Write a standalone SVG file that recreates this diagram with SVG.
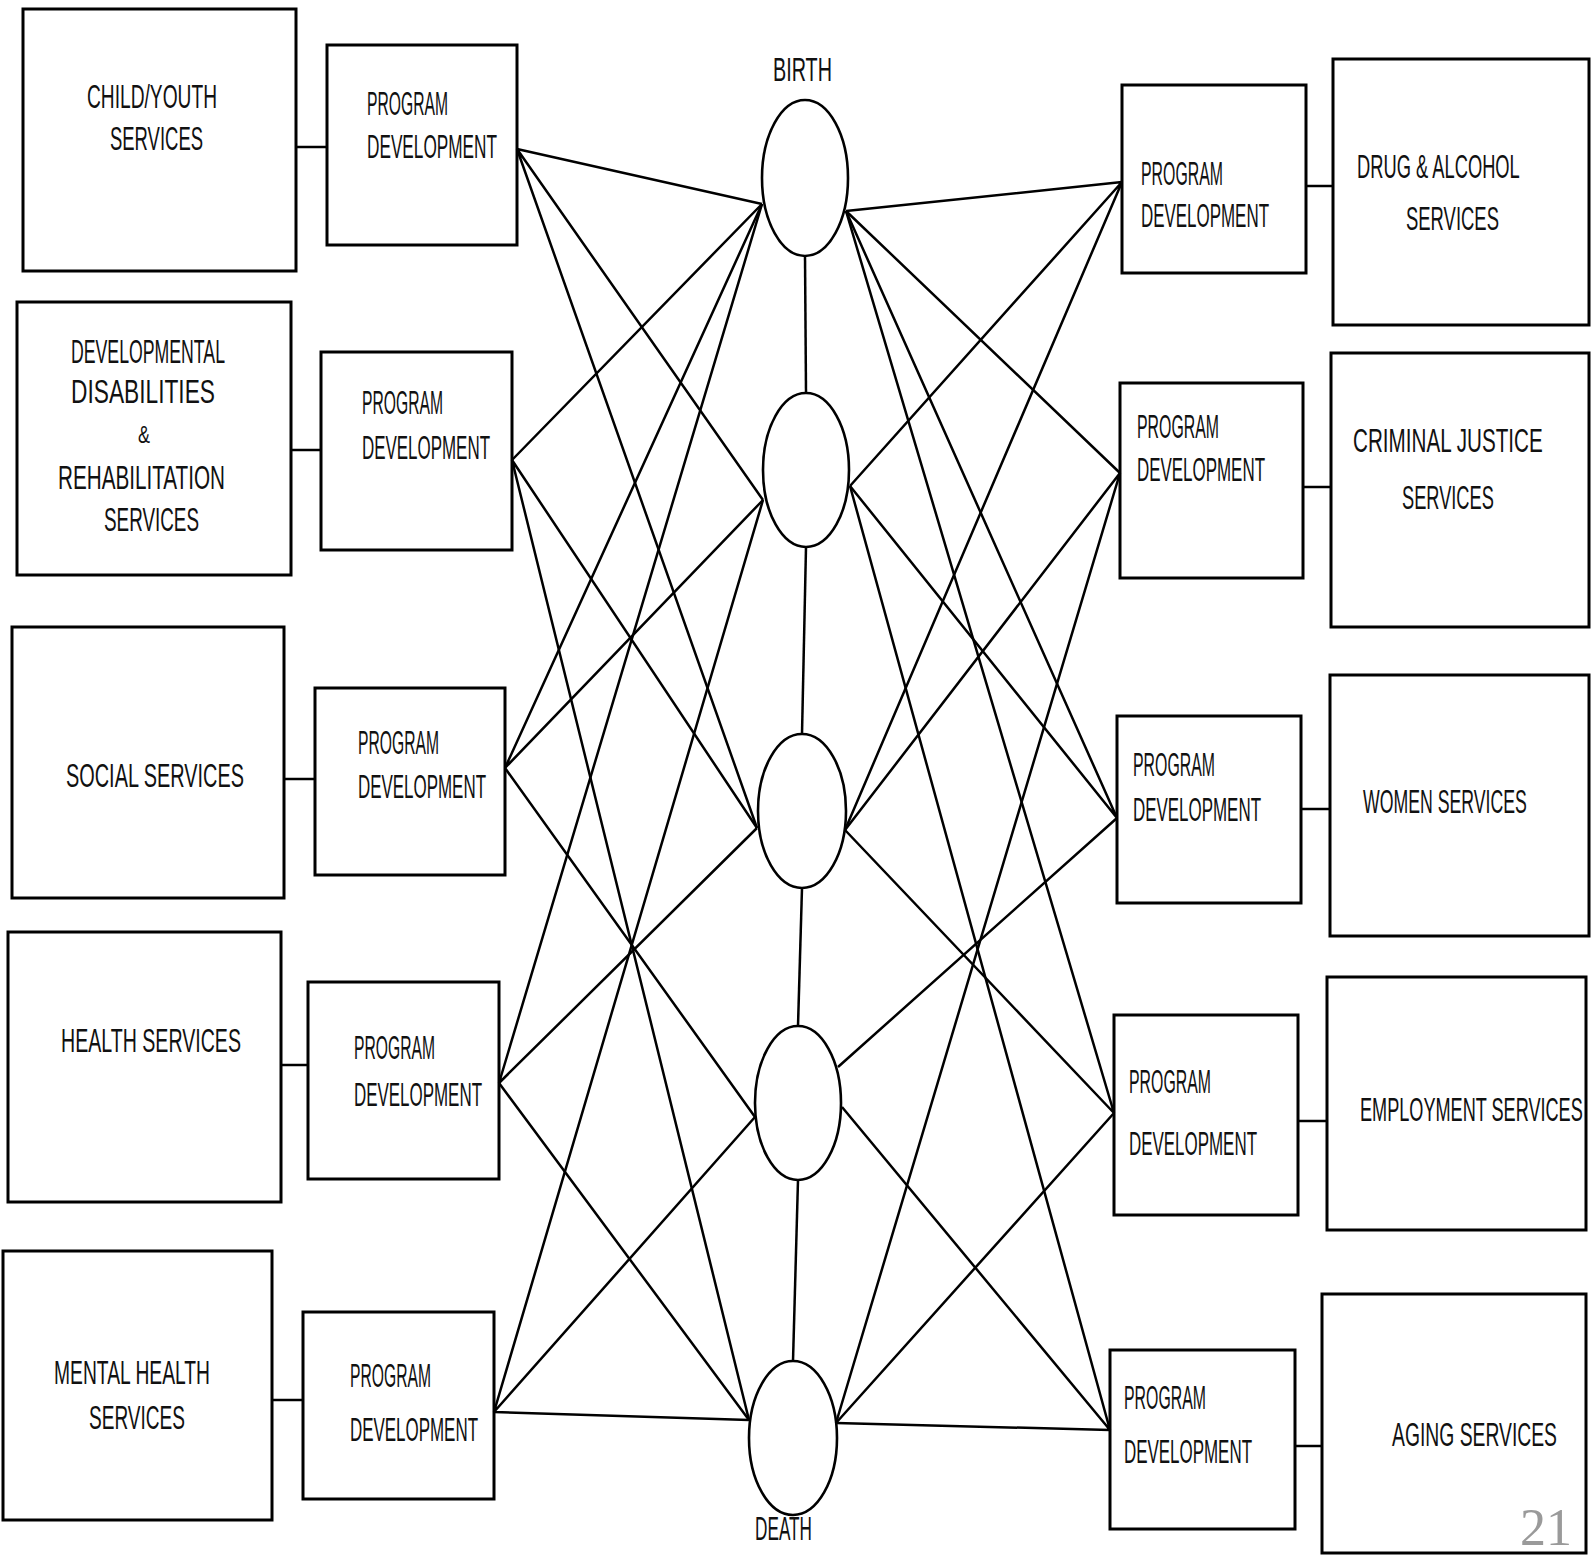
<svg xmlns="http://www.w3.org/2000/svg" width="1591" height="1563" viewBox="0 0 1591 1563">
<style>
.box{fill:none;stroke:#000;stroke-width:3}
.ell{fill:none;stroke:#000;stroke-width:2.6}
.c{stroke:#000;stroke-width:2.5;fill:none}
.t{font-family:"Liberation Sans Narrow","Liberation Sans",sans-serif;font-size:33px;fill:#111}
.pg{font-family:"Liberation Serif",serif;font-size:52px;fill:#9a9a9a}
</style>
<rect width="1591" height="1563" fill="#fff"/>
<g id="connectors">
<line class="c" x1="296" y1="147" x2="327" y2="147"/>
<line class="c" x1="291" y1="450" x2="321" y2="450"/>
<line class="c" x1="284" y1="779" x2="315" y2="779"/>
<line class="c" x1="281" y1="1065" x2="308" y2="1065"/>
<line class="c" x1="272" y1="1400" x2="303" y2="1400"/>
<line class="c" x1="1306" y1="186" x2="1333" y2="186"/>
<line class="c" x1="1303" y1="487" x2="1331" y2="487"/>
<line class="c" x1="1301" y1="809" x2="1330" y2="809"/>
<line class="c" x1="1298" y1="1121" x2="1327" y2="1121"/>
<line class="c" x1="1295" y1="1446" x2="1322" y2="1446"/>
<line class="c" x1="805" y1="256" x2="806" y2="393"/>
<line class="c" x1="806" y1="547" x2="802" y2="734"/>
<line class="c" x1="802" y1="888" x2="798" y2="1026"/>
<line class="c" x1="798" y1="1180" x2="793" y2="1361"/>
<path class="c" d="M517 149L762 204M517 149L763 500M517 149L757 828"/>
<path class="c" d="M512 460L762 204M512 460L757 828M512 460L749 1420"/>
<path class="c" d="M505 768L762 204M505 768L763 500M505 768L755 1117"/>
<path class="c" d="M499 1083L762 204M499 1083L757 828M499 1083L749 1420"/>
<path class="c" d="M494 1412L763 500M494 1412L755 1117M494 1412L749 1420"/>
<path class="c" d="M1122 182L846 211M1122 182L850 486M1122 182L845 830"/>
<path class="c" d="M1120 473L846 211M1120 473L845 830M1120 473L836 1423"/>
<path class="c" d="M1117 818L846 211M1117 818L850 486M1117 818L838 1067"/>
<path class="c" d="M1114 1113L846 211M1114 1113L845 830M1114 1113L836 1423"/>
<path class="c" d="M1110 1430L850 486M1110 1430L842 1107M1110 1430L836 1423"/>
</g>
<g id="child-youth"><rect class="box" x="23" y="9" width="273" height="262"/>
<text class="t" x="87" y="108" textLength="130" lengthAdjust="spacingAndGlyphs">CHILD/YOUTH</text>
<text class="t" x="110" y="150" textLength="93" lengthAdjust="spacingAndGlyphs">SERVICES</text></g>
<g id="dev-disabilities"><rect class="box" x="17" y="302" width="274" height="273"/>
<text class="t" x="71" y="363" textLength="154" lengthAdjust="spacingAndGlyphs">DEVELOPMENTAL</text>
<text class="t" x="71" y="403" textLength="144" lengthAdjust="spacingAndGlyphs">DISABILITIES</text>
<text class="t" x="138" y="443" textLength="12" lengthAdjust="spacingAndGlyphs" style="font-size:24px">&amp;</text>
<text class="t" x="58" y="489" textLength="167" lengthAdjust="spacingAndGlyphs">REHABILITATION</text>
<text class="t" x="104" y="531" textLength="95" lengthAdjust="spacingAndGlyphs">SERVICES</text></g>
<g id="social"><rect class="box" x="12" y="627" width="272" height="271"/>
<text class="t" x="66" y="787" textLength="178" lengthAdjust="spacingAndGlyphs">SOCIAL SERVICES</text></g>
<g id="health"><rect class="box" x="8" y="932" width="273" height="270"/>
<text class="t" x="61" y="1052" textLength="180" lengthAdjust="spacingAndGlyphs">HEALTH SERVICES</text></g>
<g id="mental-health"><rect class="box" x="3" y="1251" width="269" height="269"/>
<text class="t" x="54" y="1384" textLength="156" lengthAdjust="spacingAndGlyphs">MENTAL HEALTH</text>
<text class="t" x="89" y="1429" textLength="96" lengthAdjust="spacingAndGlyphs">SERVICES</text></g>
<g id="pd-l1"><rect class="box" x="327" y="45" width="190" height="200"/>
<text class="t" x="367" y="115" textLength="81" lengthAdjust="spacingAndGlyphs">PROGRAM</text>
<text class="t" x="367" y="158" textLength="130" lengthAdjust="spacingAndGlyphs">DEVELOPMENT</text></g>
<g id="pd-l2"><rect class="box" x="321" y="352" width="191" height="198"/>
<text class="t" x="362" y="414" textLength="81" lengthAdjust="spacingAndGlyphs">PROGRAM</text>
<text class="t" x="362" y="459" textLength="128" lengthAdjust="spacingAndGlyphs">DEVELOPMENT</text></g>
<g id="pd-l3"><rect class="box" x="315" y="688" width="190" height="187"/>
<text class="t" x="358" y="754" textLength="81" lengthAdjust="spacingAndGlyphs">PROGRAM</text>
<text class="t" x="358" y="798" textLength="128" lengthAdjust="spacingAndGlyphs">DEVELOPMENT</text></g>
<g id="pd-l4"><rect class="box" x="308" y="982" width="191" height="197"/>
<text class="t" x="354" y="1059" textLength="81" lengthAdjust="spacingAndGlyphs">PROGRAM</text>
<text class="t" x="354" y="1106" textLength="128" lengthAdjust="spacingAndGlyphs">DEVELOPMENT</text></g>
<g id="pd-l5"><rect class="box" x="303" y="1312" width="191" height="187"/>
<text class="t" x="350" y="1387" textLength="81" lengthAdjust="spacingAndGlyphs">PROGRAM</text>
<text class="t" x="350" y="1441" textLength="128" lengthAdjust="spacingAndGlyphs">DEVELOPMENT</text></g>
<g id="birth"><ellipse class="ell" cx="805" cy="178" rx="43" ry="78"/>
<text class="t" x="773" y="81" textLength="59" lengthAdjust="spacingAndGlyphs">BIRTH</text></g>
<g id="stage2"><ellipse class="ell" cx="806" cy="470" rx="43" ry="77"/></g>
<g id="stage3"><ellipse class="ell" cx="802" cy="811" rx="44" ry="77"/></g>
<g id="stage4"><ellipse class="ell" cx="798" cy="1103" rx="43" ry="77"/></g>
<g id="death"><ellipse class="ell" cx="793" cy="1438" rx="44" ry="77"/>
<text class="t" x="755" y="1540" textLength="57" lengthAdjust="spacingAndGlyphs">DEATH</text></g>
<g id="pd-r1"><rect class="box" x="1122" y="85" width="184" height="188"/>
<text class="t" x="1141" y="185" textLength="82" lengthAdjust="spacingAndGlyphs">PROGRAM</text>
<text class="t" x="1141" y="227" textLength="128" lengthAdjust="spacingAndGlyphs">DEVELOPMENT</text></g>
<g id="pd-r2"><rect class="box" x="1120" y="383" width="183" height="195"/>
<text class="t" x="1137" y="438" textLength="82" lengthAdjust="spacingAndGlyphs">PROGRAM</text>
<text class="t" x="1137" y="481" textLength="128" lengthAdjust="spacingAndGlyphs">DEVELOPMENT</text></g>
<g id="pd-r3"><rect class="box" x="1117" y="716" width="184" height="187"/>
<text class="t" x="1133" y="776" textLength="82" lengthAdjust="spacingAndGlyphs">PROGRAM</text>
<text class="t" x="1133" y="821" textLength="128" lengthAdjust="spacingAndGlyphs">DEVELOPMENT</text></g>
<g id="pd-r4"><rect class="box" x="1114" y="1015" width="184" height="200"/>
<text class="t" x="1129" y="1093" textLength="82" lengthAdjust="spacingAndGlyphs">PROGRAM</text>
<text class="t" x="1129" y="1155" textLength="128" lengthAdjust="spacingAndGlyphs">DEVELOPMENT</text></g>
<g id="pd-r5"><rect class="box" x="1110" y="1350" width="185" height="179"/>
<text class="t" x="1124" y="1409" textLength="82" lengthAdjust="spacingAndGlyphs">PROGRAM</text>
<text class="t" x="1124" y="1463" textLength="128" lengthAdjust="spacingAndGlyphs">DEVELOPMENT</text></g>
<g id="drug-alcohol"><rect class="box" x="1333" y="59" width="256" height="266"/>
<text class="t" transform="translate(1357 178) scale(0.55 1)" textLength="296" lengthAdjust="spacingAndGlyphs">DRUG &amp; ALCOHOL</text>
<text class="t" transform="translate(1406 230) scale(0.55 1)" textLength="169" lengthAdjust="spacingAndGlyphs">SERVICES</text></g>
<g id="criminal-justice"><rect class="box" x="1331" y="353" width="258" height="274"/>
<text class="t" transform="translate(1353 452) scale(0.55 1)" textLength="345" lengthAdjust="spacingAndGlyphs">CRIMINAL JUSTICE</text>
<text class="t" transform="translate(1402 509) scale(0.55 1)" textLength="167" lengthAdjust="spacingAndGlyphs">SERVICES</text></g>
<g id="women"><rect class="box" x="1330" y="675" width="259" height="261"/>
<text class="t" transform="translate(1363 813) scale(0.55 1)" textLength="298" lengthAdjust="spacingAndGlyphs">WOMEN SERVICES</text></g>
<g id="employment"><rect class="box" x="1327" y="977" width="259" height="253"/>
<text class="t" transform="translate(1360 1121) scale(0.55 1)" textLength="405" lengthAdjust="spacingAndGlyphs">EMPLOYMENT SERVICES</text></g>
<g id="aging"><rect class="box" x="1322" y="1294" width="264" height="259"/>
<text class="t" transform="translate(1392 1446) scale(0.55 1)" textLength="300" lengthAdjust="spacingAndGlyphs">AGING SERVICES</text></g>
<text class="pg" x="1520" y="1545">21</text>
</svg>
